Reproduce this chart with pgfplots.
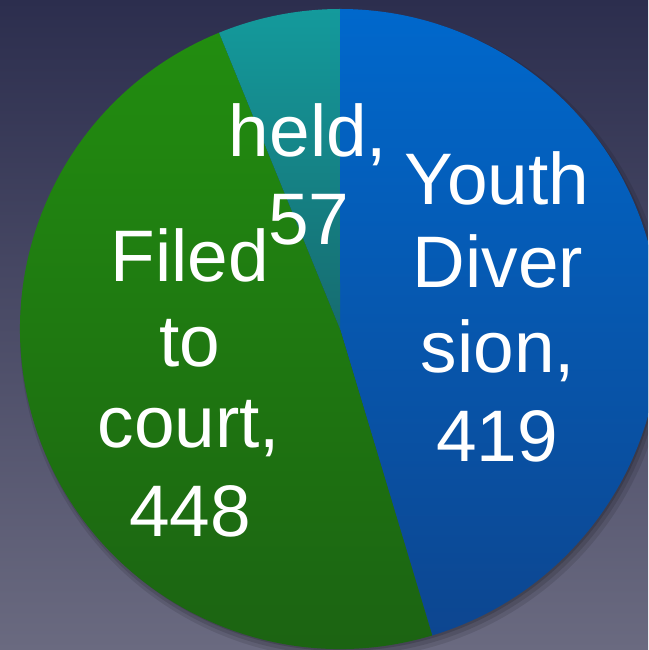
\documentclass[border=0pt]{standalone}
\usepackage{pgfplots}
\pgfplotsset{compat=1.18}
\usepackage{pgfplotstable}
\usepackage{fontspec}
\setmainfont{Liberation Sans}
\definecolor{bgtop}{HTML}{2C2E4E}
\definecolor{bgbot}{HTML}{6A6A80}
\definecolor{bluetop}{HTML}{0068CC}
\definecolor{bluebot}{HTML}{0D4690}
\definecolor{greentop}{HTML}{228D10}
\definecolor{greenbot}{HTML}{1B6112}
\definecolor{tealtop}{HTML}{149A9C}
\definecolor{tealbot}{HTML}{166C70}
\pgfplotstableread{
label value
Youth 419
Filed 448
held 57
}\piedata
\begin{document}
\begin{tikzpicture}
\pgfplotstablegetelem{0}{value}\of\piedata \pgfmathsetmacro\va{\pgfplotsretval}
\pgfplotstablegetelem{1}{value}\of\piedata \pgfmathsetmacro\vb{\pgfplotsretval}
\pgfplotstablegetelem{2}{value}\of\piedata \pgfmathsetmacro\vc{\pgfplotsretval}
\pgfmathsetmacro\tot{\va+\vb+\vc}
\pgfmathsetmacro\aA{90}
\pgfmathsetmacro\aB{90-360*(\va/\tot)}
\pgfmathsetmacro\aC{\aB-360*(\vb/\tot)}
\pgfmathsetmacro\aD{\aC-360*(\vc/\tot)}
\path[use as bounding box] (0,0) rectangle (648pt,650pt);
\clip (0,0) rectangle (648pt,650pt);
\shade[top color=bgtop, bottom color=bgbot] (0,0) rectangle (648pt,650pt);
\begin{axis}[at={(0pt,0pt)}, anchor=origin, x=1pt, y=1pt,
  xmin=0, xmax=648, ymin=0, ymax=650, hide axis, clip=false]
\fill[black, opacity=0.10] (axis cs:344,315) circle[radius=324pt];
\fill[black, opacity=0.12] (axis cs:343,316) circle[radius=321pt];
\fill[black, opacity=0.15] (axis cs:342,318) circle[radius=319pt];
\shade[top color=bluetop, bottom color=bluebot] (axis cs:340,321) -- ++(\aA:320pt) arc[start angle=\aA, end angle=\aB, radius=320pt] -- cycle;
\shade[top color=greentop, bottom color=greenbot] (axis cs:340,321) -- ++(\aB:320pt) arc[start angle=\aB, end angle=\aC, radius=320pt] -- cycle;
\shade[top color=tealtop, bottom color=tealbot] (axis cs:340,321) -- ++(\aC:320pt) arc[start angle=\aC, end angle=\aD, radius=320pt] -- cycle;
\begin{scope}[every node/.style={anchor=base, text=white, inner sep=0pt, font=\fontsize{73}{85}\selectfont}]
\node at (axis cs:497,445) {Youth};
\node at (axis cs:498,362) {Diver};
\node at (axis cs:498,277) {sion,};
\node at (axis cs:497,188) {419};
\node at (axis cs:190,368) {Filed};
\node at (axis cs:190,283) {to};
\node at (axis cs:189,202) {court,};
\node at (axis cs:190,113) {448};
\node at (axis cs:308,493) {held,};
\node at (axis cs:309,405) {57};
\end{scope}
\end{axis}
\end{tikzpicture}
\end{document}
